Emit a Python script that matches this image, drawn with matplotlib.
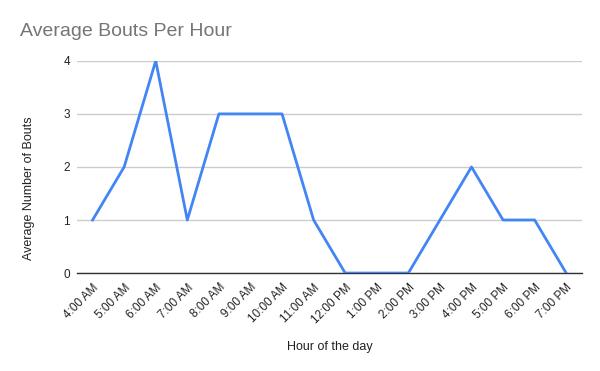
import matplotlib.pyplot as plt

hours = ['4:00 AM', '5:00 AM', '6:00 AM', '7:00 AM', '8:00 AM', '9:00 AM',
         '10:00 AM', '11:00 AM', '12:00 PM', '1:00 PM', '2:00 PM', '3:00 PM',
         '4:00 PM', '5:00 PM', '6:00 PM', '7:00 PM']
bouts = [1, 2, 4, 1, 3, 3, 3, 1, 0, 0, 0, 1, 2, 1, 1, 0]

plt.rcParams['font.family'] = ['Liberation Sans', 'DejaVu Sans']

fig = plt.figure(figsize=(6, 3.71), dpi=100)
ax = fig.add_axes([0.128, 0.264, 0.842, 0.572])

x = list(range(len(hours)))
ax.plot(x, bouts, color='#4285F4', linewidth=2, zorder=3)

ax.set_xlim(-0.5, len(hours) - 0.5)
ax.set_ylim(0, 4)
ax.set_yticks([0, 1, 2, 3, 4])
ax.set_xticks(x)
ax.set_xticklabels(hours, rotation=45, ha='right', rotation_mode='anchor', fontsize=8.5, color='#222222')
ax.tick_params(axis='y', labelsize=8.5, labelcolor='#222222', length=0, pad=5)
ax.tick_params(axis='x', length=0, pad=6)

ax.grid(axis='y', color='#cccccc', linewidth=1)
for s in ['top', 'right', 'left']:
    ax.spines[s].set_visible(False)
ax.spines['bottom'].set_color('#333333')
ax.spines['bottom'].set_linewidth(1)

ax.set_ylabel('Average Number of Bouts', fontsize=9, color='#222222')
ax.yaxis.set_label_coords(-0.083, 0.40)
ax.set_xlabel('Hour of the day', fontsize=9, color='#222222', labelpad=11)
fig.text(0.033, 0.915, 'Average Bouts Per Hour', fontsize=14, color='#757575', va='center')

fig.savefig('out.png', dpi=100)
